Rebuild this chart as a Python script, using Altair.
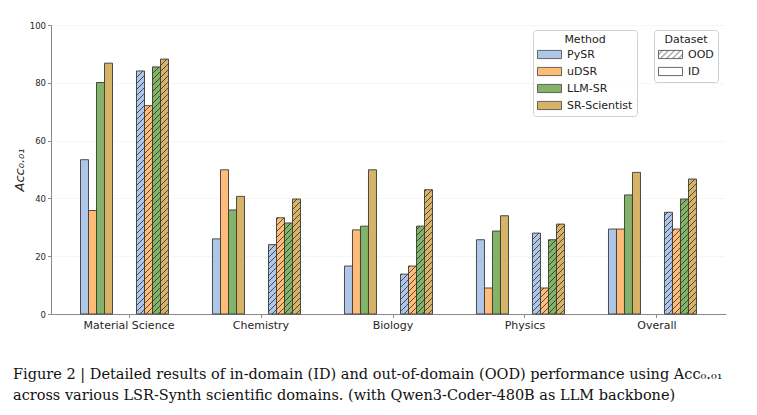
import altair as alt
import pandas as pd

# ---------------- data ----------------
domains = ["Material Science", "Chemistry", "Biology", "Physics", "Overall"]
methods = ["PySR", "uDSR", "LLM-SR", "SR-Scientist"]
datasets = ["OOD", "ID"]
method_colors = ["#aec7e8", "#ffbb78", "#82b366", "#d6b366"]

pysr_id = [53.4, 26.0, 16.6, 25.7, 29.4]
udsr_id = [35.8, 49.9, 29.1, 9.0, 29.4]
llmsr_id = [80.1, 36.0, 30.4, 28.7, 41.2]
srsci_id = [86.8, 40.7, 49.9, 34.0, 49.0]

pysr_ood = [84.1, 24.0, 13.8, 28.0, 35.2]
udsr_ood = [72.1, 33.3, 16.6, 9.0, 29.4]
llmsr_ood = [85.5, 31.5, 30.4, 25.7, 39.8]
srsci_ood = [88.2, 39.8, 43.0, 31.1, 46.7]

caption_lines = [
    "Figure 2 | Detailed results of in-domain (ID) and out-of-domain (OOD) performance using Acc\u2080.\u2080\u2081",
    "across various LSR-Synth scientific domains. (with Qwen3-Coder-480B as LLM backbone)",
]
y_title = "Acc\u2080.\u2080\u2081"

# ---------------- table ----------------
rows = []
id_series = [pysr_id, udsr_id, llmsr_id, srsci_id]
ood_series = [pysr_ood, udsr_ood, llmsr_ood, srsci_ood]
for m, idv, oodv in zip(methods, id_series, ood_series):
    for d, a, b in zip(domains, idv, oodv):
        rows.append({"Domain": d, "Method": m, "Dataset": "ID", "Acc": a, "Slot": "ID|" + m})
        rows.append({"Domain": d, "Method": m, "Dataset": "OOD", "Acc": b, "Slot": "OOD|" + m})
df = pd.DataFrame(rows)

slots = ["ID|" + m for m in methods] + ["gap1", "gap2", "gap3"] + ["OOD|" + m for m in methods]

# ---------------- hatch pattern definition (SVG fill) ----------------
HATCH_DEFS = (
    '<svg width="0" height="0" style="position:absolute;left:0;top:0">'
    '<defs><pattern id="hatch" patternUnits="userSpaceOnUse" width="6" height="6">'
    '<path d="M-1,1 L1,-1 M0,6 L6,0 M5,7 L7,5" stroke="#2b2b2b" stroke-width="0.8"/>'
    '</pattern></defs></svg>'
)
try:
    import altair.utils.html as _ah

    _orig = _ah.TEMPLATES["standard"]

    class _HatchTemplate:
        def render(self, **kw):
            html = _orig.render(**kw)
            if "<body>" in html:
                return html.replace("<body>", "<body>" + HATCH_DEFS, 1)
            return HATCH_DEFS + html

    _ah.TEMPLATES["standard"] = _HatchTemplate()
except Exception:
    pass

legend_common = dict(
    orient="none",
    symbolType="M-1,-0.34H1V0.34H-1Z",
    symbolSize=576,
    symbolStrokeColor="#444444",
    symbolStrokeWidth=0.8,
    clipHeight=13,
    rowPadding=4,
    labelFontSize=11,
    labelFont="DejaVu Sans",
    labelColor="#222222",
    labelOffset=5,
    titleFontSize=11,
    titleFont="DejaVu Sans",
    titleFontWeight="normal",
    titleColor="#222222",
    titleAnchor="middle",
    titlePadding=3,
    strokeColor="#d0d0d0",
    fillColor="rgba(255,255,255,0.85)",
    cornerRadius=3,
    padding=4,
    legendY=5,
)

base = alt.Chart(df).encode(
    x=alt.X(
        "Domain:N",
        sort=domains,
        scale=alt.Scale(paddingInner=0.3333, paddingOuter=0.2235),
        axis=alt.Axis(title=None, labelAngle=0, tickOffset=4, labelFontSize=11,
                      tickSize=3.5, labelPadding=2, grid=False),
    ),
    xOffset=alt.XOffset("Slot:N", scale=alt.Scale(domain=slots, paddingInner=0, paddingOuter=0)),
    y=alt.Y(
        "Acc:Q",
        scale=alt.Scale(domain=[0, 100], nice=False),
        axis=alt.Axis(values=[0, 20, 40, 60, 80, 100], title=y_title, grid=True,
                      labelFontSize=8.5, tickSize=3.5, labelPadding=2,
                      titleFontStyle="italic", titleFontSize=13, titleFontWeight="normal",
                      titlePadding=3),
    ),
)

bars = base.mark_bar(stroke="#3a3a3a", strokeWidth=0.9).encode(
    color=alt.Color(
        "Method:N",
        scale=alt.Scale(domain=methods, range=method_colors),
        legend=alt.Legend(title="Method", legendX=482, **legend_common),
    )
)

hatch = base.mark_bar().encode(
    fill=alt.Fill(
        "Dataset:N",
        scale=alt.Scale(domain=datasets, range=["url(#hatch)", "rgba(255,255,255,0)"]),
        legend=alt.Legend(title="Dataset", legendX=603, **legend_common),
    )
)

chart = (
    alt.layer(bars, hatch)
    .resolve_scale(color="independent", fill="independent")
    .properties(
        width=675,
        height=289,
        autosize=alt.AutoSizeParams(type="none"),
        padding={"left": 43, "top": 17, "right": 15, "bottom": 92},
        title=alt.TitleParams(
            text=caption_lines,
            orient="bottom",
            anchor="start",
            frame="group",
            dx=-38,
            offset=37,
            font="DejaVu Serif",
            fontSize=14.5,
            fontWeight="normal",
            color="#111111",
            lineHeight=21,
            baseline="top",
        ),
    )
    .configure_view(stroke=None)
    .configure_axis(
        domainColor="#8a8a8a",
        tickColor="#8a8a8a",
        labelColor="#262626",
        titleColor="#262626",
        labelFont="DejaVu Sans",
        titleFont="DejaVu Sans",
        gridColor="#dddddd",
        gridDash=[1, 2],
        gridWidth=0.8,
    )
)

chart.save("out.html", embed_options={"renderer": "svg", "actions": False})
